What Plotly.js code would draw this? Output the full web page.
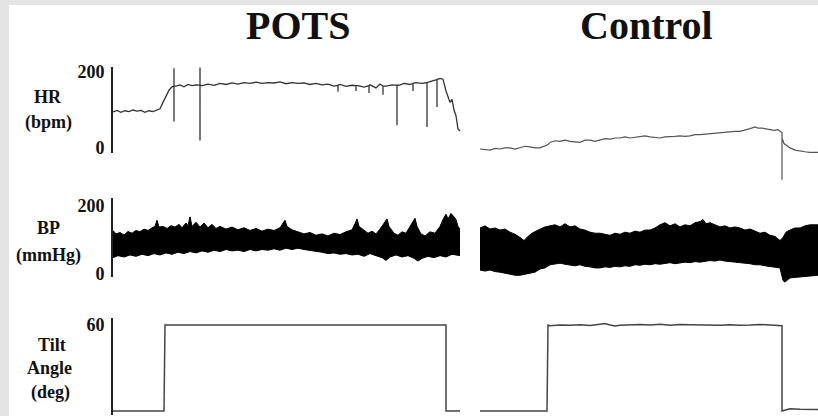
<!DOCTYPE html>
<html><head><meta charset="utf-8">
<script src="https://cdn.plot.ly/plotly-3.0.1.min.js"></script>
<style>html,body{margin:0;padding:0;background:#fff}#plot{width:818px;height:416px}</style>
</head><body><div id="plot"></div>
<script>
// ---- POTS heart rate (time in min, bpm) ----
const potsHrT = [0,0.4,0.8,1.2,1.6,2.0,2.4,2.8,3.2,3.6,4.0,4.4,4.7,5.0,5.3,5.6,5.9,6.1,6.1,6.1,6.1,6.3,6.7,7.1,7.5,7.9,8.3,8.7,8.7,8.7,8.7,8.9,9.5,10.1,10.7,11.3,11.9,12.5,13.1,13.7,14.3,14.9,15.5,16.1,16.7,17.3,17.9,18.5,19.1,19.7,20.3,20.9,21.5,22.1,22.5,22.5,22.5,22.7,23.3,23.9,24.3,24.3,24.3,24.5,25.1,25.6,25.6,25.6,25.7,26.3,26.7,27.0,27.0,27.0,27.3,27.9,28.4,28.4,28.4,28.6,29.1,29.7,30.0,30.0,30.0,30.3,30.9,31.4,31.4,31.4,31.6,32.1,32.4,32.4,32.4,32.7,33.0,33.3,33.5,33.7,33.9,34.1,34.3,34.5,34.7];
const potsHrV = [95,99,94,98,96,100,97,99,94,98,96,100,103,120,138,152,161,163,210,70,163,163,166,161,167,164,166,165,212,20,165,164,168,165,170,167,171,168,172,170,173,170,172,171,174,169,172,170,171,167,170,166,168,163,165,148,165,167,162,165,164,150,164,164,160,164,145,164,166,158,168,163,140,163,163,166,165,60,165,165,170,167,170,150,170,172,170,172,55,172,174,178,180,108,180,183,181,150,135,120,128,100,85,50,45];

// ---- POTS blood pressure envelope (mmHg) ----
const potsBpTopT = [0,0.3,0.7,1.1,1.5,1.9,2.3,2.7,3.1,3.5,3.9,4.2,4.4,4.6,5.0,5.4,5.8,6.2,6.6,6.9,7.3,7.5,7.7,7.9,8.3,8.7,9.1,9.5,9.9,10.3,10.7,11.3,11.9,12.5,13.1,13.7,14.3,14.9,15.5,16.1,16.7,17.0,17.2,17.4,17.9,18.5,19.1,19.7,20.3,20.9,21.5,22.1,22.7,23.3,23.9,24.2,24.4,24.6,25.1,25.5,25.9,26.3,26.7,27.1,27.4,27.6,28.1,28.5,28.9,29.3,29.7,30.0,30.2,30.4,30.8,31.2,31.7,32.2,32.7,33.0,33.3,33.5,33.8,34.1,34.3,34.5,34.7];
const potsBpTopV = [128,118,122,115,125,120,128,124,132,128,136,140,158,138,140,134,142,138,146,136,150,142,168,140,152,138,150,136,146,134,140,132,138,130,136,128,134,126,132,128,136,150,158,140,130,124,118,122,114,118,112,120,116,124,130,148,162,140,128,120,126,118,132,150,162,140,120,114,124,120,140,158,164,140,118,112,124,120,140,160,176,162,178,168,160,140,132];
const potsBpLowT = [0,0.5,1.1,1.7,2.3,2.9,3.5,4.1,4.7,5.3,5.9,6.5,7.1,7.7,8.3,8.9,9.5,10.1,10.7,11.3,11.9,12.5,13.1,13.7,14.3,14.9,15.5,16.1,16.7,17.3,17.9,18.5,19.1,19.7,20.3,20.9,21.5,22.1,22.7,23.3,23.9,24.5,25.1,25.7,26.3,26.9,27.3,27.7,28.3,28.9,29.5,30.1,30.5,30.9,31.5,32.1,32.7,33.3,33.9,34.3,34.7];
const potsBpLowV = [48,54,50,56,52,58,54,60,56,62,58,64,60,66,62,68,64,70,66,72,68,70,66,72,68,72,70,74,70,76,72,76,72,70,66,64,60,62,58,60,56,58,52,60,54,48,40,50,56,50,54,46,38,46,52,48,54,50,58,56,54];

// ---- POTS tilt angle (deg) ----
const potsTiltT = [0,5.1,5.2,33.3,33.3,34.7];
const potsTiltV = [0,0,60,60,0,0];

// ---- Control heart rate ----
const ctrlHrT = [0,0.5,1,1.5,2,2.5,3,3.5,4,4.5,5,5.5,6,6.5,6.8,7,7.5,8,8.5,9,9.5,10,10.5,11,11.5,12,12.5,13,13.5,14,14.5,15,15.5,16,16.5,17,17.5,18,18.5,19,19.5,20,20.5,21,21.5,22,22.5,23,23.5,24,24.5,25,25.5,26,26.5,27,27.5,27.8,28.2,28.6,29,29.4,29.8,30.1,30.2,30.2,30.2,30.4,30.7,31,31.5,32,32.5,33,33.5,33.8];
const ctrlHrV = [70,69.5,69,70.5,70,71,71,70,71,72.5,72,71,71,73,74,76,77.5,77,78,77,76.5,76,78,78,77,78,79.5,79,80,80,81,80,80.5,81,82,81,80.5,80,81,81,81.5,82,81.5,82,83,83,83.5,84,84.5,85,85,85.5,86,86,87,88.5,90,89,89,88.5,88,87,87.5,85,85,42,80,75,73,71,69,68,67.5,67,67,67];

// ---- Control blood pressure envelope ----
const ctrlBpTopT = [0,0.5,1,1.5,2,2.5,3,3.5,4,4.4,4.8,5.2,5.6,6,6.5,7,7.5,8,8.5,9,9.5,10,10.5,11,11.5,12,12.5,13,13.5,14,14.5,15,15.5,16,16.5,17,17.5,18,18.5,19,19.5,20,20.5,21,21.5,22,22.3,22.6,23,23.5,24,24.5,25,25.5,26,26.5,27,27.5,28,28.5,29,29.5,30,30.3,30.6,31,31.5,32,32.5,33,33.8];
const ctrlBpTopV = [140,144,138,140,136,138,132,128,122,116,124,130,134,138,142,144,146,142,148,142,144,138,136,132,130,130,128,126,130,128,132,130,134,132,136,136,140,146,150,144,148,142,146,144,150,152,156,148,150,146,142,144,140,142,140,136,138,134,130,132,126,124,116,122,132,136,140,140,144,146,146];
const ctrlBpLowT = [0,0.5,1,1.5,2,2.5,3,3.5,4,4.5,5,5.5,6,6.5,7,7.5,8,8.5,9,9.5,10,10.5,11,11.5,12,12.5,13,13.5,14,14.5,15,15.5,16,16.5,17,17.5,18,18.5,19,19.5,20,20.5,21,21.5,22,22.5,23,23.5,24,24.5,25,25.5,26,26.5,27,27.5,28,28.5,29,29.5,30,30.3,30.5,30.8,31,31.5,32,32.5,33,33.8];
const ctrlBpLowV = [60,58,60,57,56,54,52,50,50,52,54,56,62,64,70,72,73,71,70,68,70,67,66,64,64,66,65,67,66,68,67,70,69,71,70,72,71,73,74,72,73,75,74,76,75,77,78,77,79,77,76,75,75,73,72,70,70,68,67,66,64,40,37,42,45,46,47,48,49,50];

// ---- Control tilt angle ----
const ctrlTiltT = [0,6.7,6.8,7,8,9,10,11,12,12.5,13,13.5,14,15,16,17,18,19,20,21,22,23,24,25,26,27,28,29,30,30.2,30.2,31,32,33.8];
const ctrlTiltV = [0,0,60,59.5,60,59.8,60.2,59.6,60.5,61,60,59.3,59.8,60,60.4,60,60.6,59.8,60.3,60.2,60,60.1,59.9,60.2,59.8,60,60.4,60,59.6,59.5,0,1.5,1.2,1];

// ---- labels ----
const panelTitles = ['POTS', 'Control'];
const rowLabels = [['HR', '(bpm)'], ['BP', '(mmHg)'], ['Tilt', 'Angle', '(deg)']];
const hrTicks = [0, 200], bpTicks = [0, 200], tiltTicks = [0, 60];

const W = 818, H = 416;
const fx = p => p / W, fy = p => 1 - p / H;
const serif = 'Liberation Serif, Times New Roman, serif';

const traces = [
  {x: potsHrT, y: potsHrV, xaxis: 'x', yaxis: 'y', mode: 'lines', line: {color: '#333', width: 1.3}},
  {x: potsBpLowT, y: potsBpLowV, xaxis: 'x', yaxis: 'y2', mode: 'lines', line: {color: '#000', width: 1}},
  {x: potsBpTopT, y: potsBpTopV, xaxis: 'x', yaxis: 'y2', mode: 'lines', fill: 'tonexty', fillcolor: '#000', line: {color: '#000', width: 1}},
  {x: potsTiltT, y: potsTiltV, xaxis: 'x', yaxis: 'y3', mode: 'lines', line: {color: '#444', width: 1.5}},
  {x: ctrlHrT, y: ctrlHrV, xaxis: 'x2', yaxis: 'y4', mode: 'lines', line: {color: '#555', width: 1.2}},
  {x: ctrlBpLowT, y: ctrlBpLowV, xaxis: 'x2', yaxis: 'y5', mode: 'lines', line: {color: '#000', width: 1}},
  {x: ctrlBpTopT, y: ctrlBpTopV, xaxis: 'x2', yaxis: 'y5', mode: 'lines', fill: 'tonexty', fillcolor: '#000', line: {color: '#000', width: 1}},
  {x: ctrlTiltT, y: ctrlTiltV, xaxis: 'x2', yaxis: 'y3', mode: 'lines', line: {color: '#444', width: 1.5}}
];

const visY = (dom, range, ticks) => ({
  domain: dom, range: range, anchor: 'x', showline: true, linecolor: '#222', linewidth: 2,
  showgrid: false, zeroline: false, ticks: '', tickvals: ticks, ticktext: ticks.map(t => '<b>' + t + '</b>'),
  tickfont: {family: serif, size: 18, color: '#111'}, ticklabelstandoff: 3, fixedrange: true
});
const hidY = (dom, range) => ({domain: dom, range: range, anchor: 'x2', visible: false, fixedrange: true});

const annotations = [];
[[298, 25], [646, 25]].forEach((p, i) => annotations.push({
  text: '<b>' + panelTitles[i] + '</b>', x: fx(p[0]), y: fy(p[1]), xref: 'paper', yref: 'paper',
  showarrow: false, xanchor: 'center', yanchor: 'middle', font: {family: serif, size: 40, color: '#111'}
}));
const labelPos = [[[48, 97], [48, 123]], [[48, 228], [48, 255]], [[52, 345], [49, 368], [50, 392]]];
rowLabels.forEach((lines, r) => lines.forEach((s, k) => annotations.push({
  text: '<b>' + s + '</b>', x: fx(labelPos[r][k][0]), y: fy(labelPos[r][k][1]), xref: 'paper', yref: 'paper',
  showarrow: false, xanchor: 'center', yanchor: 'middle', font: {family: serif, size: 18, color: '#111'}
})));

const layout = {
  width: W, height: H, margin: {l: 0, r: 0, t: 0, b: 0},
  paper_bgcolor: '#e4e4e4', plot_bgcolor: 'rgba(0,0,0,0)', showlegend: false,
  xaxis: {domain: [fx(113), fx(462)], range: [0, 34.9], visible: false, fixedrange: true},
  xaxis2: {domain: [fx(480), 1], range: [0, 33.8], visible: false, fixedrange: true},
  yaxis: visY([fy(153), fy(67)], [-13, 213], hrTicks),
  yaxis2: visY([fy(277), fy(198)], [-8.8, 223.5], bpTicks),
  yaxis3: visY([fy(415), fy(318)], [-2.8, 64.9], tiltTicks),
  yaxis4: hidY([fy(185), fy(67)], [37.3, 144.5]),
  yaxis5: hidY([fy(290), fy(198)], [22, 197]),
  shapes: [{type: 'rect', xref: 'paper', yref: 'paper', x0: fx(9), x1: 1, y0: 0, y1: fy(5), fillcolor: '#fff', line: {width: 0}, layer: 'below'}],
  annotations: annotations
};

Plotly.newPlot('plot', traces, layout, {displayModeBar: false, staticPlot: true});
</script></body></html>
